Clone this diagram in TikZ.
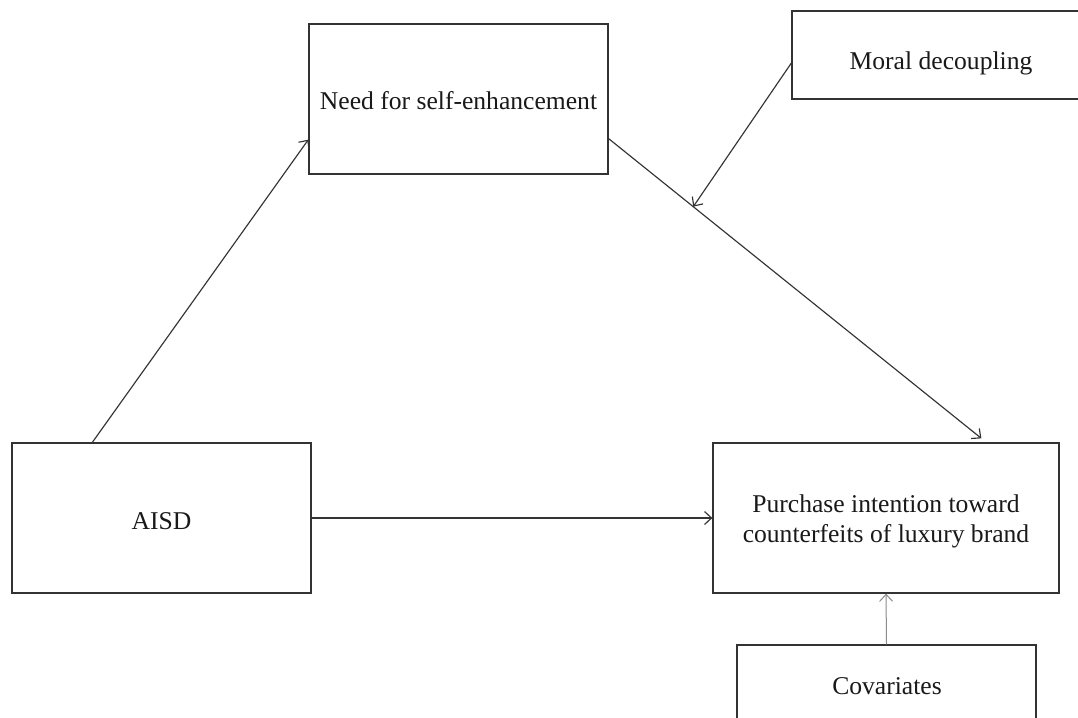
\documentclass[tikz,border=0pt]{standalone}
\usepackage{fontspec}
\setmainfont{Liberation Serif}
\usetikzlibrary{arrows.meta,calc}
\begin{document}
\begin{tikzpicture}[x=1pt,y=-1pt,
  box/.style={draw=black!80, line width=1.3pt, rectangle, inner sep=0pt},
  conn/.style={draw=black!80, line width=1.15pt, -{Straight Barb[length=7pt,width=13pt]}},
  lbl/.style={font=\fontsize{25.6}{30}\selectfont, text=black!90, inner sep=0pt, align=center}]
\clip (0,0) rectangle (1078,717);
\fill[white] (0,0) rectangle (1078,717);
% boxes
\node[box, minimum width=299, minimum height=150] (need) at (458.5,99) {};
\node[lbl] (needtext) at (458.5,101) {Need for self-enhancement};
\node[box, minimum width=298, minimum height=88] (moral) at (941,55) {};
\node[lbl] (moraltext) at (941,63) {Moral decoupling};
\node[box, minimum width=299, minimum height=150] (aisd) at (161.5,518) {};
\node[lbl] (aisdtext) at (161.5,521) {AISD};
\node[box, minimum width=346, minimum height=150] (purch) at (886,518) {};
\node[lbl] (purchtext) at (886,521) {Purchase intention toward\\counterfeits of luxury brand};
\node[box, minimum width=299, minimum height=150] (cov) at (886.5,720) {};
\node[lbl] (covtext) at (887,686) {Covariates};
% connectors
\coordinate (aisdtop) at ($(aisd.north west)+(81,0)$);
\coordinate (needin) at ($(need.south west)+(0,-35)$);
\draw[conn] (aisdtop) -- (needin);
\draw[conn] (aisd.east) -- (purch.west);
\coordinate (needout) at ($(need.south east)+(0,-36)$);
\coordinate (purchin) at ($(purch.north west)+(269,-4)$);
\draw[conn] (needout) -- (purchin);
\coordinate (mid) at ($(needout)!0.227!(purchin)$);
\coordinate (moralout) at ($(moral.west)+(0,8)$);
\draw[conn] (moralout) -- (mid);
\draw[conn, draw=black!45, line width=1pt] (cov.north) -- (purch.south);
\end{tikzpicture}
\end{document}
